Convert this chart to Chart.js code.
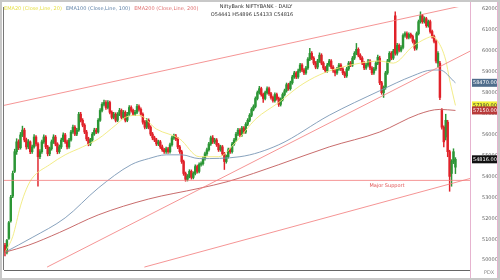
<!DOCTYPE html>
<html>
<head>
<meta charset="utf-8">
<script src="https://cdn.jsdelivr.net/npm/chart.js@4.4.1/dist/chart.umd.min.js"></script>
<style>
  html, body { margin: 0; padding: 0; background: #fff; }
  canvas { display: block; }
</style>
</head>
<body>
<canvas id="chart" width="500" height="280"></canvas>
<script>
// daily candles (index = trading day)
const opens = [
  50710, 50380, 51040, 51880, 53060, 54240, 55180, 55650, 55370, 55980,
  56210, 55740, 55410, 55650, 55180, 55410, 55880, 55550, 54940, 55180,
  55650, 55880, 55410, 55080, 55320, 55650, 55880, 55550, 55180, 55410,
  55740, 55980, 55650, 55410, 55740, 56120, 56350, 56020, 56210, 56970,
  56680, 56450, 56120, 55790, 55550, 55740, 56020, 56210, 56120, 56680,
  57150, 57440, 57530, 57290, 57530, 57060, 56820, 56970, 56680, 56970,
  57150, 56820, 57060, 56680, 56970, 57290, 57150, 56970, 57060, 57340,
  57200, 56970, 56590, 56350, 56680, 56350, 56020, 55840, 55740, 55550,
  55650, 55410, 55270, 55180, 55320, 55180, 55510, 55840, 55930, 55790,
  55410, 55180, 54710, 54140, 53860, 54000, 54240, 53950, 54140, 54470,
  54240, 54570, 54610, 54850, 55080, 55270, 55550, 55840, 55650, 55740,
  55510, 55270, 55410, 55080, 54710, 54940, 55270, 55180, 55550, 55740,
  56020, 56210, 55980, 56310, 56120, 56490, 56680, 56920, 57200, 57340,
  57720, 58000, 58190, 57910, 57720, 58000, 58190, 57950, 57770, 57620,
  57910, 57720, 57440, 57670, 57910, 58090, 58380, 58190, 58470, 58750,
  58940, 58750, 59040, 59320, 59080, 58940, 59180, 59600, 59880, 59650,
  59410, 59220, 59510, 59790, 59410, 59180, 59040, 59320, 59510, 59220,
  59040, 58940, 59130, 59320, 59130, 58940, 58800, 59130, 59410, 59320,
  59650, 59880, 60070, 59790, 59650, 59410, 59180, 59320, 59510, 59180,
  58940, 59130, 59410, 59650, 58470, 58000, 58240, 58940, 59510, 59880,
  59650, 61670, 59880, 60260, 60020, 60160, 60730, 60820, 60640, 60780,
  60680, 60450, 60120, 60820, 61390, 61670, 61390, 61530, 61200, 61390,
  60920, 60680, 60450, 59410, 59410, 57150, 56350, 55880, 56590, 55180,
  54140, 54710, 54441
];
const highs = [
  50800, 51000, 51850, 53100, 54250, 55300, 55800, 55750, 56100, 56400,
  56300, 55830, 55760, 55700, 55500, 56000, 55950, 55620, 55280, 55740,
  55990, 55950, 55480, 55400, 55740, 55990, 55960, 55610, 55500, 55830,
  56080, 56060, 55730, 55820, 56200, 56450, 56430, 56300, 57060, 57060,
  56760, 56520, 56200, 55870, 55820, 56100, 56300, 56290, 56760, 57240,
  57530, 57650, 57620, 57620, 57600, 57130, 57060, 57040, 57050, 57250,
  57220, 57150, 57130, 57060, 57380, 57370, 57220, 57150, 57440, 57420,
  57270, 57040, 56660, 56760, 56750, 56420, 56100, 55920, 55820, 55730,
  55720, 55490, 55340, 55400, 55390, 55590, 55920, 56020, 56010, 55860,
  55480, 55250, 54780, 54210, 54090, 54320, 54310, 54220, 54550, 54540,
  54650, 54700, 54930, 55160, 55350, 55630, 55920, 55950, 55820, 55810,
  55580, 55490, 55480, 55150, 55020, 55350, 55350, 55630, 55820, 56100,
  56290, 56280, 56390, 56380, 56570, 56760, 57000, 57280, 57420, 57800,
  58080, 58300, 58260, 57980, 58080, 58280, 58260, 58020, 57840, 57990,
  57980, 57790, 57750, 57990, 58170, 58460, 58450, 58550, 58830, 59020,
  59010, 59120, 59400, 59390, 59150, 59260, 59680, 60120, 59960, 59720,
  59490, 59590, 59900, 59860, 59480, 59250, 59400, 59590, 59580, 59290,
  59110, 59210, 59400, 59390, 59200, 59010, 59210, 59490, 59490, 59730,
  59960, 60350, 60140, 59860, 59720, 59480, 59400, 59590, 59580, 59250,
  59210, 59490, 59790, 59740, 58540, 58320, 59020, 59590, 59960, 59960,
  60070, 61860, 60350, 60330, 60250, 60810, 60910, 60900, 60860, 60850,
  60750, 60520, 60900, 61470, 61860, 61740, 61620, 61600, 61470, 61460,
  60990, 60750, 60520, 59960, 59490, 57240, 56420, 56970, 56680, 55250,
  54800, 55320, 54896
];
const lows = [
  50200, 50300, 50990, 51820, 52990, 54180, 55050, 55280, 55300, 55900,
  55650, 55300, 55320, 55080, 55100, 55350, 55450, 53530, 54850, 55100,
  55580, 55330, 54980, 54990, 55250, 55570, 55460, 55080, 55100, 55330,
  55660, 55570, 55310, 55340, 55680, 56050, 55940, 55950, 56150, 56600,
  56370, 56040, 55700, 55460, 55470, 55680, 55960, 56040, 56060, 56620,
  57080, 57360, 57200, 57220, 56980, 56740, 56750, 56600, 56610, 56900,
  56740, 56750, 56600, 56610, 56900, 57070, 56900, 56900, 56990, 57120,
  56890, 56500, 56270, 56280, 56270, 55940, 55750, 55660, 55470, 55470,
  55330, 55190, 55100, 55100, 55100, 55110, 55440, 55770, 55710, 55330,
  55100, 54620, 54050, 53770, 53780, 53930, 53870, 53880, 54070, 54160,
  54170, 54490, 54540, 54780, 55000, 55200, 55480, 55570, 55570, 55430,
  55190, 55200, 55000, 54330, 54630, 54870, 55100, 55110, 55480, 55670,
  55950, 55900, 55910, 56040, 56050, 56420, 56610, 56850, 57130, 57270,
  57650, 57930, 57830, 57530, 57650, 57930, 57870, 57690, 57540, 57550,
  57640, 57340, 57360, 57600, 57840, 58020, 58110, 58120, 58400, 58680,
  58670, 58680, 58970, 59000, 58860, 58870, 59110, 59530, 59570, 59330,
  59140, 59140, 59440, 59330, 59100, 58960, 58970, 59250, 59140, 58960,
  58800, 58870, 59060, 59050, 58860, 58720, 58730, 59060, 59240, 59250,
  59580, 59810, 59710, 59570, 59330, 59100, 59110, 59250, 59100, 58860,
  58870, 59060, 59340, 58380, 57920, 57770, 58160, 58870, 59440, 59570,
  59580, 59790, 59790, 59940, 59950, 60090, 60650, 60560, 60570, 60600,
  60370, 60020, 60040, 60750, 61320, 61310, 61320, 61120, 61130, 60840,
  60600, 60370, 59420, 59220, 57670, 56260, 55410, 55740, 54940, 53290,
  53530, 54610, 54133
];
const closes = [
  50380, 50940, 51790, 53010, 54140, 55180, 55650, 55370, 55980, 56210,
  55740, 55410, 55650, 55180, 55410, 55880, 55550, 54940, 55180, 55650,
  55880, 55410, 55080, 55320, 55650, 55880, 55550, 55180, 55410, 55740,
  55980, 55650, 55410, 55740, 56120, 56350, 56020, 56210, 56970, 56680,
  56450, 56120, 55790, 55550, 55740, 56020, 56210, 56120, 56680, 57150,
  57440, 57530, 57290, 57530, 57060, 56820, 56970, 56680, 56970, 57150,
  56820, 57060, 56680, 56970, 57290, 57150, 56970, 57060, 57340, 57200,
  56970, 56590, 56350, 56680, 56350, 56020, 55840, 55740, 55550, 55650,
  55410, 55270, 55180, 55320, 55180, 55510, 55840, 55930, 55790, 55410,
  55180, 54710, 54140, 53860, 54000, 54240, 53950, 54140, 54470, 54240,
  54570, 54610, 54850, 55080, 55270, 55550, 55840, 55650, 55740, 55510,
  55270, 55410, 55080, 54710, 54940, 55270, 55180, 55550, 55740, 56020,
  56210, 55980, 56310, 56120, 56490, 56680, 56920, 57200, 57340, 57720,
  58000, 58190, 57910, 57720, 58000, 58190, 57950, 57770, 57620, 57910,
  57720, 57440, 57670, 57910, 58090, 58380, 58190, 58470, 58750, 58940,
  58750, 59040, 59320, 59080, 58940, 59180, 59600, 59880, 59650, 59410,
  59220, 59510, 59790, 59410, 59180, 59040, 59320, 59510, 59220, 59040,
  58940, 59130, 59320, 59130, 58940, 58800, 59130, 59410, 59320, 59650,
  59880, 60070, 59790, 59650, 59410, 59180, 59320, 59510, 59180, 58940,
  59130, 59410, 59690, 58470, 58000, 58240, 58940, 59510, 59880, 59650,
  59980, 59880, 60260, 60020, 60160, 60730, 60820, 60640, 60780, 60680,
  60450, 60120, 60820, 61390, 61670, 61390, 61530, 61200, 61390, 60920,
  60680, 60450, 59510, 59880, 57770, 56350, 55650, 56680, 55180, 54000,
  54710, 55180, 54816
];

const ema20Idx = [0, 4, 8, 11, 14, 23, 31, 40, 48, 57, 62, 69, 78, 90, 100, 110, 119, 129, 141, 152, 162, 172, 183, 193, 200, 210, 217, 220, 223, 227, 229, 232];
const ema20Val = [50380, 51130, 52590, 53390, 53910, 54560, 55030, 55410, 55790, 56450, 56820, 56920, 56260, 55790, 54940, 54940, 55650, 56730, 57530, 58330, 58850, 59180, 59410, 59510, 59410, 60210, 60590, 60680, 60450, 59550, 58610, 57390];
const ema100Idx = [0, 14, 31, 48, 65, 74, 83, 91, 100, 121, 141, 167, 193, 210, 220, 224, 232];
const ema100Val = [50380, 51080, 52020, 53440, 54560, 54850, 55030, 55030, 54850, 54940, 55510, 56920, 58090, 58800, 59080, 59080, 58470];
const ema200Idx = [0, 12, 28, 48, 74, 100, 115, 141, 167, 193, 213, 224, 232];
const ema200Val = [50380, 50710, 51320, 52160, 52920, 53430, 53760, 54560, 55410, 56120, 56970, 57200, 57150];

// hand-drawn trend lines: [day index, price] end points
const channelTop = [[-3.1, 57340], [239.5, 62230]];
const channelMid = [[21.7, 49670], [239.5, 59980]];
const channelLow = [[71.8, 49670], [239.5, 53900]];
const majorSupport = [[-3.1, 53810], [239.5, 53810]];

const monthIdx = [0, 10, 32, 53, 75, 95, 117, 137, 157, 179, 200, 220];
const monthNames = ['Apr', 'May', 'Jun', 'Jul', 'Aug', 'Sep', 'Oct', 'Nov', 'Dec', 'Jan', 'Feb', 'Mar'];
const yTicks = [50000, 51000, 52000, 53000, 54000, 55000, 56000, 57000, 58000, 59000, 60000, 61000, 62000];

const UP = '#2c9636', DOWN = '#e0222a';
const candleColors = closes.map((c, i) => c >= opens[i] ? UP : DOWN);
const pts = (idx, val) => idx.map((x, k) => ({ x, y: val[k] }));
const seg = a => a.map(p => ({ x: p[0], y: p[1] }));

const lineDs = (data, color, width) => ({
    type: 'line', data, borderColor: color, borderWidth: width,
    pointRadius: 0, cubicInterpolationMode: 'monotone', fill: false
});

const fmt = v => v.toFixed(2);

const overlay = {
    id: 'overlay',
    beforeDraw(c) {
        const g = c.ctx;
        g.save();
        g.fillStyle = '#fff';
        g.fillRect(0, 0, c.width, c.height);
        g.restore();
    },
    afterDraw(c) {
        const g = c.ctx, a = c.chartArea, y = c.scales.y;
        g.save();

        // frame
        g.strokeStyle = '#c8c8c8';
        g.lineWidth = 2;
        g.strokeRect(1, 1, c.width - 2, c.height - 2);
        g.strokeStyle = '#777';
        g.lineWidth = 1;
        g.beginPath();
        g.moveTo(a.left - 0.5, a.top); g.lineTo(a.left - 0.5, a.bottom);
        g.stroke();
        g.strokeStyle = '#e6b3cf';
        g.beginPath();
        g.moveTo(497.5, 2); g.lineTo(497.5, 278);
        g.moveTo(a.right + 0.5, 2); g.lineTo(a.right + 0.5, 278);
        g.stroke();

        // legend
        g.font = '5px "DejaVu Sans"';
        g.textBaseline = 'middle';
        g.textAlign = 'left';
        const legend = [
            ['EMA20 (Close,Line, 20)', '#e6e04a'],
            ['EMA100 (Close,Line, 100)', '#5f82a8'],
            ['EMA200 (Close,Line, 200)', '#e07070']
        ];
        let lx = 4;
        legend.forEach(([t, col]) => {
            g.fillStyle = col;
            g.fillText(t, lx, 9);
            lx += g.measureText(t).width + 4;
        });

        // title
        g.fillStyle = '#333';
        g.textAlign = 'center';
        g.fillText('NiftyBank NIFTYBANK - DAILY', 256, 7);
        g.fillText('O' + opens.at(-1) + ' H' + highs.at(-1) + ' L' + lows.at(-1) + ' C' + closes.at(-1), 252, 15);

        // support label
        g.fillStyle = '#e05050';
        g.fillText('Major Support', 387, y.getPixelForValue(majorSupport[0][1]) + 5);

        // price boxes on the axis
        const boxes = [
            [ema100Val.at(-1), '#4f6d8c', '#fff'],
            [ema20Val.at(-1), '#f2f23a', '#333'],
            [ema200Val.at(-1), '#b83a3a', '#fff'],
            [closes.at(-1), '#111', '#fff']
        ];
        boxes.forEach(([v, bg, fg]) => {
            const py = y.getPixelForValue(v);
            g.fillStyle = bg;
            g.fillRect(a.right + 2, py - 4, 25, 8);
            g.fillStyle = fg;
            g.textAlign = 'left';
            g.fillText(fmt(v), a.right + 3, py);
        });

        g.fillStyle = '#888';
        g.fillText('PDX', 484, 273);
        g.restore();
    }
};

new Chart(document.getElementById('chart'), {
    type: 'bar',
    data: {
        datasets: [
            lineDs(seg(channelTop), '#f27a7a', 0.8),
            lineDs(seg(channelMid), '#f27a7a', 0.8),
            lineDs(seg(channelLow), '#f27a7a', 0.8),
            lineDs(seg(majorSupport), '#f27a7a', 0.8),
            lineDs(pts(ema200Idx, ema200Val), '#c25b5b', 0.9),
            lineDs(pts(ema100Idx, ema100Val), '#7b97b5', 0.9),
            lineDs(pts(ema20Idx, ema20Val), '#f0ea7a', 0.9),
            {
                data: highs.map((h, i) => ({ x: i, y: [lows[i], h] })),
                backgroundColor: candleColors, barThickness: 0.8, grouped: false
            },
            {
                data: opens.map((o, i) => ({ x: i, y: [o, closes[i]] })),
                backgroundColor: candleColors, barThickness: 1.8, grouped: false,
                minBarLength: 1
            }
        ]
    },
    options: {
        responsive: false,
        animation: false,
        layout: { padding: { left: 4, right: 2, top: 3, bottom: 1 } },
        plugins: { legend: { display: false }, tooltip: { enabled: false } },
        scales: {
            x: {
                type: 'linear', min: -0.5, max: 239.5, offset: false,
                grid: { display: false },
                border: { color: '#666', width: 1 },
                afterBuildTicks: s => { s.ticks = monthIdx.map(v => ({ value: v })); },
                afterFit: s => { s.height = 9; },
                ticks: {
                    autoSkip: false, maxRotation: 0, padding: 1, align: 'start',
                    font: { size: 5, family: 'DejaVu Sans' }, color: '#555',
                    callback: v => monthNames[monthIdx.indexOf(v)]
                }
            },
            y: {
                position: 'right', min: 49530, max: 62090,
                grid: { display: false },
                border: { display: false },
                afterBuildTicks: s => { s.ticks = yTicks.map(v => ({ value: v })); },
                afterFit: s => { s.width = 28; },
                ticks: {
                    padding: 4, font: { size: 5, family: 'DejaVu Sans' }, color: '#666',
                    callback: v => String(v)
                }
            }
        }
    },
    plugins: [overlay]
});
</script>
</body>
</html>
